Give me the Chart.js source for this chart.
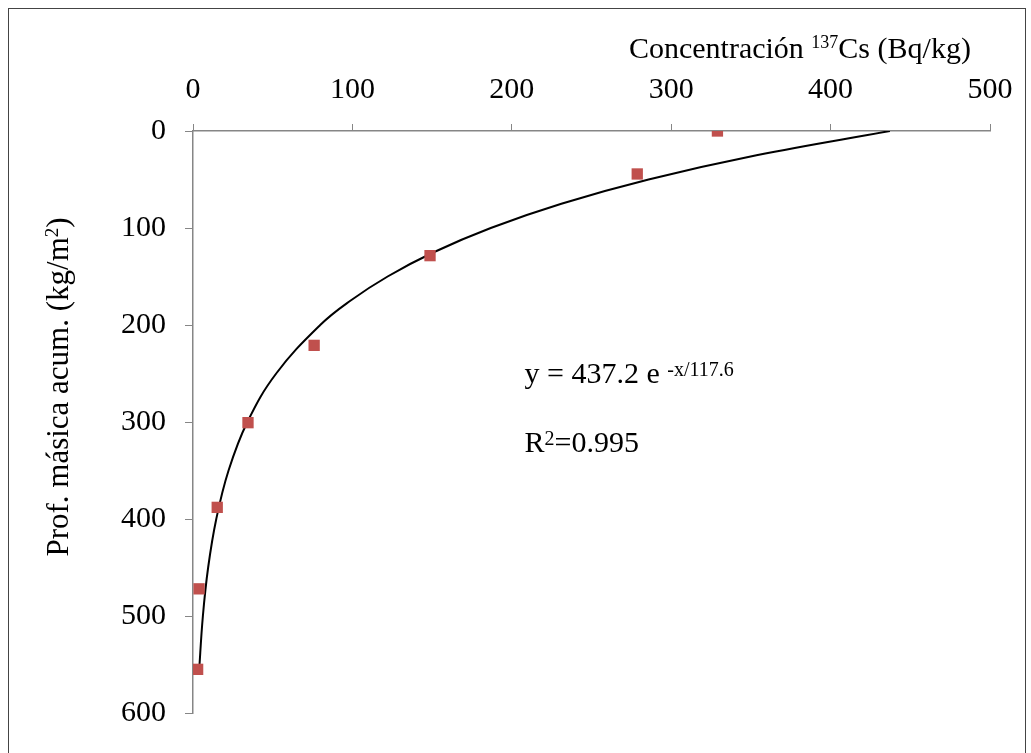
<!DOCTYPE html>
<html>
<head>
<meta charset="utf-8">
<script src="https://cdn.jsdelivr.net/npm/chart.js@4.4.1/dist/chart.umd.min.js"></script>
<style>
  body { margin: 0; background: #fff; overflow: hidden; }
  #wrap { position: relative; width: 1031px; height: 753px; }
  #frame { position: absolute; left: 8px; top: 8px; width: 1018px; height: 780px; border: 1px solid #444; box-sizing: border-box; }
  canvas { position: absolute; left: 0; top: 0; }
</style>
</head>
<body>
<div id="wrap">
  <div id="frame"></div>
  <canvas id="chart" width="1031" height="753"></canvas>
</div>
<script>
// datos medidos: concentración 137Cs (Bq/kg) vs profundidad másica (kg/m2)
const concMedida = [329, 278.7, 148.7, 76, 34.5, 15.2, 3.8, 2.9];
const profMedida = [0, 44.3, 128.5, 221, 300.7, 388, 472, 555];

// curva de ajuste
const profAjuste = [0, 25, 50, 75, 100, 125, 150, 175, 200, 250, 300, 350, 400, 450, 500, 560];
const concAjuste = [437.2, 353.5, 285.8, 231.1, 186.8, 151, 122.1, 98.7, 79.8, 52.2, 34.1, 22.3, 14.6, 9.5, 6.2, 3.7];

const xTicks = [0, 100, 200, 300, 400, 500];
const yTicks = [0, 100, 200, 300, 400, 500, 600];

const serif = '"Liberation Serif", "Times New Roman", serif';
const axisGray = '#868686';

// texto con superíndices: partes [texto, esSup]
function richWidth(ctx, parts, size, supSize) {
  let w = 0;
  parts.forEach(p => {
    ctx.font = (p[1] ? supSize : size) + 'px ' + serif;
    w += ctx.measureText(p[0]).width;
  });
  return w;
}
function drawRich(ctx, parts, x, y, size, supSize, raise, align) {
  const total = richWidth(ctx, parts, size, supSize);
  let cx = align === 'right' ? x - total : (align === 'center' ? x - total / 2 : x);
  ctx.textAlign = 'left';
  ctx.textBaseline = 'alphabetic';
  ctx.fillStyle = '#000';
  parts.forEach(p => {
    ctx.font = (p[1] ? supSize : size) + 'px ' + serif;
    ctx.fillText(p[0], cx, p[1] ? y - raise : y);
    cx += ctx.measureText(p[0]).width;
  });
}

const textos = {
  id: 'textos',
  afterDraw(chart) {
    const ctx = chart.ctx;
    const xs = chart.scales.x, ys = chart.scales.y;
    ctx.save();
    // título eje x
    drawRich(ctx, [['Concentración ', false], ['137', true], ['Cs (Bq/kg)', false]],
      xs.getPixelForValue(488), 58, 30, 18, 10, 'right');
    // título eje y
    ctx.save();
    ctx.translate(68, (ys.top + ys.bottom) / 2 - 35);
    ctx.rotate(-Math.PI / 2);
    drawRich(ctx, [['Prof. másica acum. (kg/m', false], ['2', true], [')', false]], 0, 0, 31, 19, 10, 'center');
    ctx.restore();
    // ecuación
    const ex = xs.getPixelForValue(208);
    drawRich(ctx, [['y = 437.2 e ', false], ['-x/117.6', true]], ex, ys.getPixelForValue(260), 30, 20, 7, 'left');
    drawRich(ctx, [['R', false], ['2', true], ['=0.995', false]], ex, ys.getPixelForValue(331), 30, 20, 7, 'left');
    ctx.restore();
  }
};

new Chart(document.getElementById('chart'), {
  type: 'scatter',
  data: {
    datasets: [
      {
        label: 'medido',
        data: concMedida.map((c, i) => ({ x: c, y: profMedida[i] })),
        pointStyle: 'rect',
        pointRadius: 8,
        backgroundColor: '#C0504D',
        borderColor: '#C0504D',
        borderWidth: 0,
        showLine: false,
        order: 0
      },
      {
        label: 'ajuste',
        data: concAjuste.map((c, i) => ({ x: c, y: profAjuste[i] })),
        showLine: true,
        pointRadius: 0,
        borderColor: '#000',
        borderWidth: 2,
        tension: 0.4,
        order: 1
      }
    ]
  },
  options: {
    responsive: false,
    devicePixelRatio: 1,
    animation: false,
    layout: { padding: { left: 0, top: 0, right: 41, bottom: 40 } },
    plugins: { legend: { display: false }, tooltip: { enabled: false } },
    scales: {
      x: {
        type: 'linear',
        position: 'top',
        min: 0, max: 500,
        afterFit: s => { s.height = 131; },
        afterBuildTicks: s => { s.ticks = xTicks.map(v => ({ value: v })); },
        ticks: { font: { family: serif, size: 30 }, color: '#000', padding: 16, maxRotation: 0 },
        grid: { drawOnChartArea: false, drawTicks: true, tickLength: 7, color: axisGray },
        border: { color: axisGray, width: 1.5 }
      },
      y: {
        type: 'linear',
        reverse: true,
        min: 0, max: 600,
        afterFit: s => { s.width = 193; },
        afterBuildTicks: s => { s.ticks = yTicks.map(v => ({ value: v })); },
        ticks: { font: { family: serif, size: 30 }, color: '#000', padding: 19 },
        grid: { drawOnChartArea: false, drawTicks: true, tickLength: 8, color: axisGray },
        border: { color: axisGray, width: 1.5 }
      }
    }
  },
  plugins: [textos]
});
</script>
</body>
</html>
